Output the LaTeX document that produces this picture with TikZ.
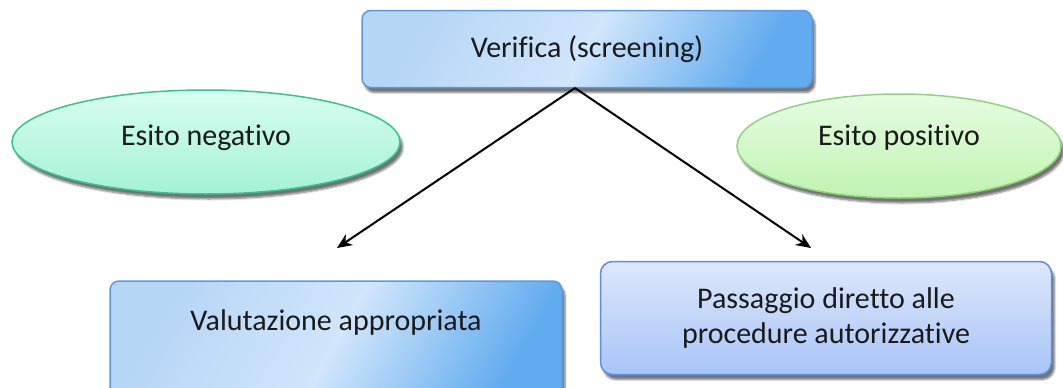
\documentclass[tikz,border=0pt]{standalone}
\usepackage{fontspec}
\setmainfont[Ligatures=NoCommon]{Carlito}
\usetikzlibrary{shapes.geometric,arrows.meta,shadows.blur}
\definecolor{txt}{HTML}{1A1A1A}
\definecolor{bluelight}{HTML}{B6D6F6}
\definecolor{bluemid}{HTML}{D0E6FB}
\definecolor{bluedark}{HTML}{62ABEF}
\definecolor{blueborder}{HTML}{5A9BE0}
\definecolor{pbtop}{HTML}{DDE8FB}
\definecolor{pbbot}{HTML}{A8C4F7}
\definecolor{pbborder}{HTML}{5A8FE0}
\definecolor{negtop}{HTML}{D8FEF2}
\definecolor{negbot}{HTML}{A4F2D5}
\definecolor{negborder}{HTML}{36C48E}
\definecolor{postop}{HTML}{E6FDE2}
\definecolor{posbot}{HTML}{C0F3B0}
\definecolor{posborder}{HTML}{8ED47C}
\tikzset{
  every node/.style={text=txt, font=\fontsize{30}{35}\selectfont},
  shadowed/.style={blur shadow={shadow xshift=3pt, shadow yshift=-5pt, shadow blur steps=6, shadow opacity=55}},
  bluebox/.style={rectangle, rounded corners=9pt, draw=blueborder, line width=1.5pt,
    left color=bluelight, right color=bluedark, middle color=bluemid, shading angle=60, shadowed},
  palebox/.style={rectangle, rounded corners=12pt, draw=pbborder, line width=1.5pt,
    top color=pbtop, bottom color=pbbot, shadowed, align=center},
  negell/.style={ellipse, draw=negborder, line width=1.5pt, top color=negtop, bottom color=negbot, shadowed},
  posell/.style={ellipse, draw=posborder, line width=1.5pt, top color=postop, bottom color=posbot, shadowed},
  conn/.style={line width=2pt, -{Stealth[length=15pt,width=13pt]}}
}
\begin{document}
\begin{tikzpicture}[x=1pt,y=-1pt]
\useasboundingbox (0,0) rectangle (1063,388);
\clip (0,0) rectangle (1063,388);
\node[bluebox, minimum width=450pt, minimum height=77pt] (top) at (587,49) {Verifica (screening)};
\node[negell, minimum width=388pt, minimum height=104pt] (neg) at (206,142) {};
\node (negt) at (206,138) {Esito negativo};
\node[posell, minimum width=324pt, minimum height=104pt] (pos) at (899,146) {};
\node (post) at (899,138) {Esito positivo};
\node[bluebox, minimum width=452pt, minimum height=124pt] (val) at (336,343) {};
\node (valt) at (336,322) {Valutazione appropriata};
\node[palebox, minimum width=451pt, minimum height=113pt] (pas) at (826,318) {Passaggio diretto alle\\procedure autorizzative};
\coordinate (src) at (575,88);
\coordinate (lt) at (337,248);
\coordinate (rt) at (811,248);
\draw[conn] (src) -- (lt);
\draw[conn] (src) -- (rt);
\end{tikzpicture}
\end{document}
